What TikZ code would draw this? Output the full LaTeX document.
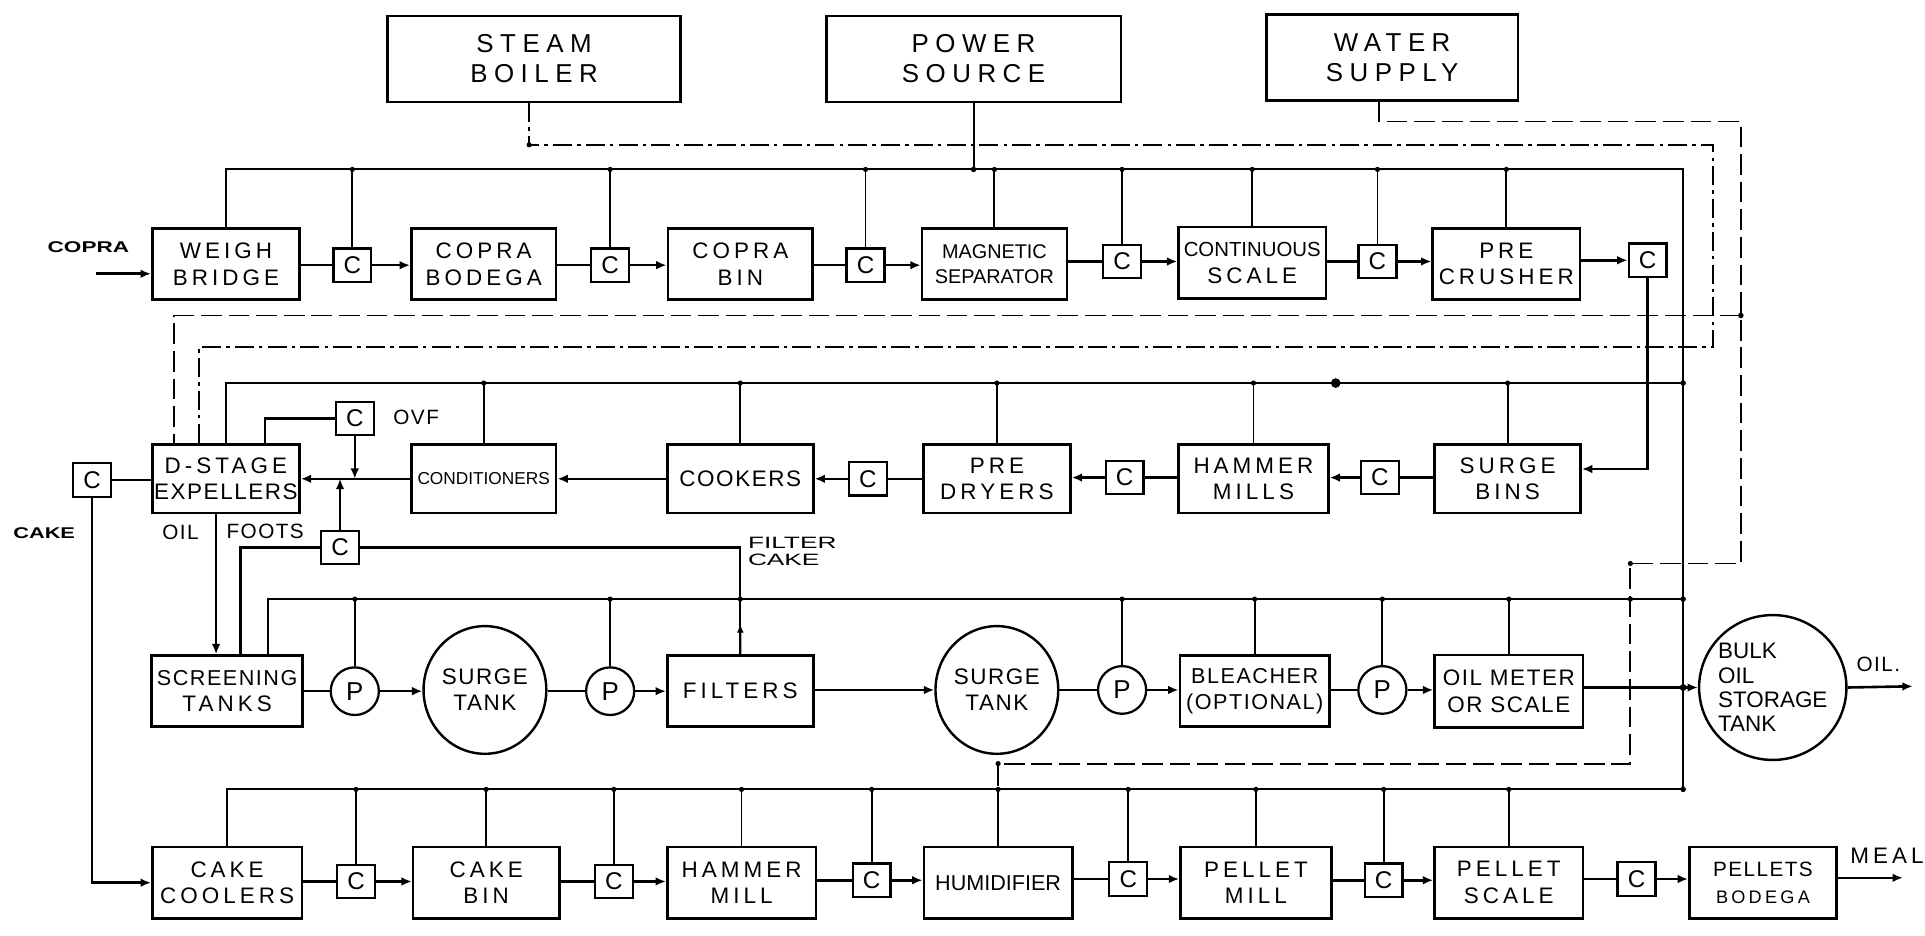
\documentclass[tikz,border=0pt]{standalone}
\usepackage{fontspec}
\usepackage{graphicx}
\setmainfont{Liberation Sans}
\newfontfamily\LabSp[LetterSpace=18]{Liberation Sans}
\newfontfamily\LabMid[LetterSpace=7]{Liberation Sans}
\newfontfamily\LabTight{Liberation Sans}
\newfontfamily\LabTop[LetterSpace=25]{Liberation Sans}
\usetikzlibrary{arrows.meta,calc,shapes.geometric}
\begin{document}
\begin{tikzpicture}[
  x=0.025cm, y=-0.025cm,
  proc/.style 2 args={draw, line width=1.5pt, fill=white, minimum width=#1*0.025cm, minimum height=#2*0.025cm, inner sep=0pt, align=center, font=\LabSp\fontsize{13}{15.5}\selectfont},
  cbox/.style={draw, line width=1.3pt, fill=white, minimum width=0.77cm, minimum height=0.68cm, inner sep=0pt, font=\LabTight\fontsize{14}{16}\selectfont},
  pump/.style={draw, ellipse, line width=1.3pt, fill=white, minimum width=0.98cm, minimum height=0.97cm, inner sep=0pt, font=\LabTight\fontsize{15}{16}\selectfont},
  tank/.style 2 args={draw, ellipse, line width=1.4pt, fill=white, minimum width=#1*0.025cm, minimum height=#2*0.025cm, inner sep=0pt, align=center, font=\LabMid\fontsize{13}{15}\selectfont},
  flow/.style={line width=1.5pt},
  fl/.style={line width=1.5pt, -{Latex[length=6pt,width=5pt]}},
  bus/.style={line width=1.1pt},
  cakeline/.style={line width=1.35pt},
  water/.style={line width=1.1pt, dash pattern=on 12pt off 4pt},
  steam/.style={line width=1.1pt, dash pattern=on 11pt off 3pt on 2pt off 3pt},
  lab/.style={inner sep=0pt, font=\LabMid\fontsize{12}{14}\selectfont},
  blab/.style={inner sep=0pt, font=\bfseries\fontsize{9}{10}\selectfont},
]
\useasboundingbox (0,0) rectangle (1568,762);

% ---------- top boxes
\node[proc={239}{70}, font=\LabTop\fontsize{15}{17.5}\selectfont] (sb) at (435,48) {STEAM\\BOILER};
\node[proc={240}{70}, font=\LabTop\fontsize{15}{17.5}\selectfont] (ps) at (793,48) {POWER\\SOURCE};
\node[proc={205}{70}, font=\LabTop\fontsize{15}{17.5}\selectfont] (ws) at (1134,47) {WATER\\SUPPLY};

% ---------- row 1
\node[proc={120}{58}] (wb) at (184,215) {WEIGH\\BRIDGE};
\node[cbox] (c1) at (287,216) {C};
\node[proc={118}{58}] (bod) at (394,215) {COPRA\\BODEGA};
\node[cbox] (c2) at (497,216) {C};
\node[proc={118}{58}] (bin) at (603,215) {COPRA\\BIN};
\node[cbox] (c3) at (705,216) {C};
\node[proc={118}{58}, font=\LabTight\fontsize{11.5}{14.5}\selectfont] (mag) at (810,215) {MAGNETIC\\SEPARATOR};
\node[cbox] (c4) at (914,213) {C};
\node[proc={120}{58}] (cs) at (1020,214) {{\LabTight\fontsize{11.8}{14}\selectfont CONTINUOUS}\\SCALE};
\node[cbox] (c5) at (1122,213) {C};
\node[proc={120}{58}] (pc) at (1227,215) {PRE\\CRUSHER};
\node[cbox] (c6) at (1342,212) {C};

% ---------- row 2
\node[proc={120}{56}] (exp) at (184,390) {D-STAGE\\{\LabMid EXPELLERS}};
\node[cbox] (ccake) at (75,391) {C};
\node[cbox] (covf) at (289,341) {C};
\node[cbox] (cfoots) at (277,446) {C};
\node[proc={118}{56}, font=\LabTight\fontsize{10}{12}\selectfont] (cond) at (394,390) {CONDITIONERS};
\node[proc={119}{56}, font=\LabMid\fontsize{13}{15}\selectfont] (cook) at (603,390) {COOKERS};
\node[cbox] (c7) at (707,390) {C};
\node[proc={120}{56}] (pd) at (812,390) {PRE\\DRYERS};
\node[cbox] (c8) at (916,389) {C};
\node[proc={122}{56}] (hmills) at (1021,390) {HAMMER\\MILLS};
\node[cbox] (c9) at (1124,389) {C};
\node[proc={119}{56}] (sbins) at (1228,390) {SURGE\\BINS};

% ---------- row 3
\node[proc={123}{58}] (st) at (185,563) {{\LabMid\fontsize{12.5}{15}\selectfont SCREENING}\\TANKS};
\node[pump] (p1) at (289,563) {P};
\node[tank={100}{104}] (sg1) at (395,562) {SURGE\\TANK};
\node[pump] (p2) at (497,563) {P};
\node[proc={119}{58}] (filt) at (603,563) {FILTERS};
\node[tank={100}{104}] (sg2) at (812,562) {SURGE\\TANK};
\node[pump] (p3) at (914,562) {P};
\node[proc={122}{58}, font=\LabMid\fontsize{12.5}{15.5}\selectfont] (bl) at (1022,563) {BLEACHER\\(OPTIONAL)};
\node[pump] (p4) at (1126,562) {P};
\node[proc={121}{59}, font=\LabMid\fontsize{13}{15.5}\selectfont] (om) at (1229,563) {OIL METER\\OR SCALE};
\node[tank={120}{118}, align=left, inner sep=-6pt, font=\LabTight\fontsize{13}{14}\selectfont] (bulk) at (1444,560) {BULK\\OIL\\STORAGE\\TANK};

% ---------- row 4
\node[proc={122}{58}] (cc) at (185,719) {CAKE\\COOLERS};
\node[cbox] (c10) at (290,718) {C};
\node[proc={119}{58}] (cb) at (396,719) {CAKE\\BIN};
\node[cbox] (c11) at (500,718) {C};
\node[proc={121}{58}] (hml) at (604,719) {HAMMER\\MILL};
\node[cbox] (c12) at (710,717) {C};
\node[proc={121}{58}, font=\LabTight\fontsize{12.5}{15}\selectfont] (hum) at (813,719) {HUMIDIFIER};
\node[cbox] (c13) at (919,716) {C};
\node[proc={123}{58}] (pm) at (1023,719) {PELLET\\MILL};
\node[cbox] (c14) at (1127,717) {C};
\node[proc={121}{58}] (pscale) at (1229,719) {PELLET\\SCALE};
\node[cbox] (c15) at (1333,716) {C};
\node[proc={120}{58}] (pb) at (1436,719) {{\LabMid\fontsize{12}{15}\selectfont PELLETS}\\{\fontsize{10.5}{13}\selectfont BODEGA}};

% ---------- labels
\node[blab] (lcopra) at (72,201) {\scalebox{1.45}[1]{COPRA}};
\node[blab] (lcake) at (36,434) {\scalebox{1.4}[1]{CAKE}};
\node[lab] (loil) at (147,434) {OIL};
\node[lab] (lfoots) at (216,433) {FOOTS};
\node[lab] (lovf) at (339,340) {OVF};
\node[inner sep=0pt, anchor=west, align=left, font=\fontsize{9.5}{10}\selectfont] (lfc) at (609,449) {\scalebox{1.6}[1]{FILTER}\\\scalebox{1.6}[1]{CAKE}};
\node[lab] (loilout) at (1530,541) {OIL.};
\node[lab, font=\LabSp\fontsize{13}{15}\selectfont] (lmeal) at (1537,697) {MEAL};

% ---------- coordinates
\coordinate (b1) at (0,138);
\coordinate (b2) at (0,312);
\coordinate (b3) at (0,488);
\coordinate (b4) at (0,643);
\coordinate (rv) at (1371,0);
\coordinate (copra) at (78,223);
\coordinate (oilend) at (1558,559);
\coordinate (mealend) at (1550,715);
\coordinate (expW) at ($(exp.north)+(-42,0)$);
\coordinate (expS) at ($(exp.north)+(-22,0)$);
\coordinate (expO) at ($(exp.north)+(32,0)$);
\coordinate (expB) at ($(exp.south)+(-8,0)$);
\coordinate (stF) at ($(st.north)+(11,0)$);
\coordinate (stT) at ($(st.north)+(33,0)$);
\coordinate (wsO) at ($(ws.south)+(-11,0)$);
\coordinate (sbO) at ($(sb.south)+(-4,0)$);

% ---------- power buses
\draw[bus] (wb.north) -- (wb.north |- b1) -- (rv |- b1) -- (rv |- b4) -- (cc.north |- b4) -- (cc.north);
\draw[bus] (ps.south) -- (ps.south |- b1);
\fill (ps.south |- b1) circle (1.6pt);
\foreach \n in {c1,c2,c3,mag,c4,cs,c5,pc} {
  \draw[bus] (\n.north) -- (\n.north |- b1);
  \fill (\n.north |- b1) circle (1.5pt);
}
\draw[bus] (exp.north) -- (exp.north |- b2) -- (rv |- b2);
\foreach \n in {cond,cook,pd,hmills,sbins} {
  \draw[bus] (\n.north) -- (\n.north |- b2);
  \fill (\n.north |- b2) circle (1.5pt);
}
\fill (1088,312) circle (2.8pt);
\draw[bus] (stT) -- (stT |- b3) -- (rv |- b3);
\foreach \n in {p1,p2,p3,bl,p4,om} {
  \draw[bus] (\n.north) -- (\n.north |- b3);
  \fill (\n.north |- b3) circle (1.5pt);
}
\foreach \n in {c10,cb,c11,hml,c12,hum,c13,pm,c14,pscale} {
  \draw[bus] (\n.north) -- (\n.north |- b4);
  \fill (\n.north |- b4) circle (1.5pt);
}
\foreach \n in {b2,b3,b4} { \fill (rv |- \n) circle (1.6pt); }

% ---------- filter cake and foots
\draw[cakeline] (filt.north) -- (filt.north |- cfoots.east) -- (cfoots.east);
\fill (filt.north |- b3) circle (1.5pt);
\draw[cakeline, -{Latex[length=5pt,width=4pt]}] (filt.north) -- ($(filt.north)!0.55!(filt.north |- b3)$);
\draw[flow] (stF) -- (stF |- cfoots.west) -- (cfoots.west);
\draw[fl] (expB) -- (expB |- st.north);
\draw[fl] (cfoots.north) -- (cfoots.north |- exp.east);
\draw[flow] (expO) -- (expO |- covf.west) -- (covf.west);
\draw[fl] (covf.south) -- (covf.south |- exp.east);

% ---------- water (dashed)
\draw[water] (wsO) -- (wsO |- 0,99) -- (1418,99) -- (1418,459) -- (1328,459) -- (1328,622) -- (hum.north |- 0,622) -- (hum.north |- b4);
\draw[water] (1418,257) -- (expW |- 0,257) -- (expW);
\fill (1418,257) circle (1.6pt);
\fill (1328,459) circle (1.5pt);
\fill (1328,488) circle (1.5pt);
\fill (hum.north |- 0,622) circle (1.5pt);

% ---------- steam (dash-dot)
\draw[steam] (sbO) -- (sbO |- 0,118) -- (1395,118) -- (1395,283) -- (expS |- 0,283) -- (expS);
\fill (sbO |- 0,118) circle (1.5pt);

% ---------- row 1 flow
\draw[fl] (copra) -- (wb.west |- copra);
\draw[flow] (wb.east |- c1.west) -- (c1.west);
\draw[fl] (c1.east) -- (bod.west |- c1.east);
\draw[flow] (bod.east |- c2.west) -- (c2.west);
\draw[fl] (c2.east) -- (bin.west |- c2.east);
\draw[flow] (bin.east |- c3.west) -- (c3.west);
\draw[fl] (c3.east) -- (mag.west |- c3.east);
\draw[flow] (mag.east |- c4.west) -- (c4.west);
\draw[fl] (c4.east) -- (cs.west |- c4.east);
\draw[flow] (cs.east |- c5.west) -- (c5.west);
\draw[fl] (c5.east) -- (pc.west |- c5.east);
\draw[fl] (pc.east |- c6.west) -- (c6.west);
\draw[fl] (c6.south) -- (c6.south |- 0,382) -- (sbins.east |- 0,382);

% ---------- row 2 flow (right to left)
\draw[flow] (sbins.west |- c9.east) -- (c9.east);
\draw[fl] (c9.west) -- (hmills.east |- c9.west);
\draw[flow] (hmills.west |- c8.east) -- (c8.east);
\draw[fl] (c8.west) -- (pd.east |- c8.west);
\draw[flow] (pd.west |- c7.east) -- (c7.east);
\draw[fl] (c7.west) -- (cook.east |- c7.west);
\draw[fl] (cook.west) -- (cond.east);
\draw[fl] (cond.west) -- (exp.east);
\draw[flow] (ccake.east) -- (exp.west |- ccake.east);
\draw[fl] (ccake.south) -- (ccake.south |- cc.west) -- (cc.west);

% ---------- row 3 flow
\draw[flow] (st.east |- p1.west) -- (p1.west);
\draw[fl] (p1.east) -- (sg1.west |- p1.east);
\draw[flow] (sg1.east |- p2.west) -- (p2.west);
\draw[fl] (p2.east) -- (filt.west |- p2.east);
\draw[fl] (filt.east |- sg2.west) -- (sg2.west);
\draw[flow] (sg2.east) -- (p3.west);
\draw[fl] (p3.east) -- (bl.west |- p3.east);
\draw[flow] (bl.east |- p4.west) -- (p4.west);
\draw[fl] (p4.east) -- (om.west |- p4.east);
\draw[fl] (om.east |- bulk.west) -- (bulk.west);
\fill (rv |- bulk.west) circle (2pt);
\draw[fl] (bulk.east) -- (oilend);

% ---------- row 4 flow
\draw[flow] (cc.east |- c10.west) -- (c10.west);
\draw[fl] (c10.east) -- (cb.west |- c10.east);
\draw[flow] (cb.east |- c11.west) -- (c11.west);
\draw[fl] (c11.east) -- (hml.west |- c11.east);
\draw[flow] (hml.east |- c12.west) -- (c12.west);
\draw[fl] (c12.east) -- (hum.west |- c12.east);
\draw[flow] (hum.east |- c13.west) -- (c13.west);
\draw[fl] (c13.east) -- (pm.west |- c13.east);
\draw[flow] (pm.east |- c14.west) -- (c14.west);
\draw[fl] (c14.east) -- (pscale.west |- c14.east);
\draw[flow] (pscale.east |- c15.west) -- (c15.west);
\draw[fl] (c15.east) -- (pb.west |- c15.east);
\draw[fl] (pb.east |- mealend) -- (mealend);
\end{tikzpicture}
\end{document}
